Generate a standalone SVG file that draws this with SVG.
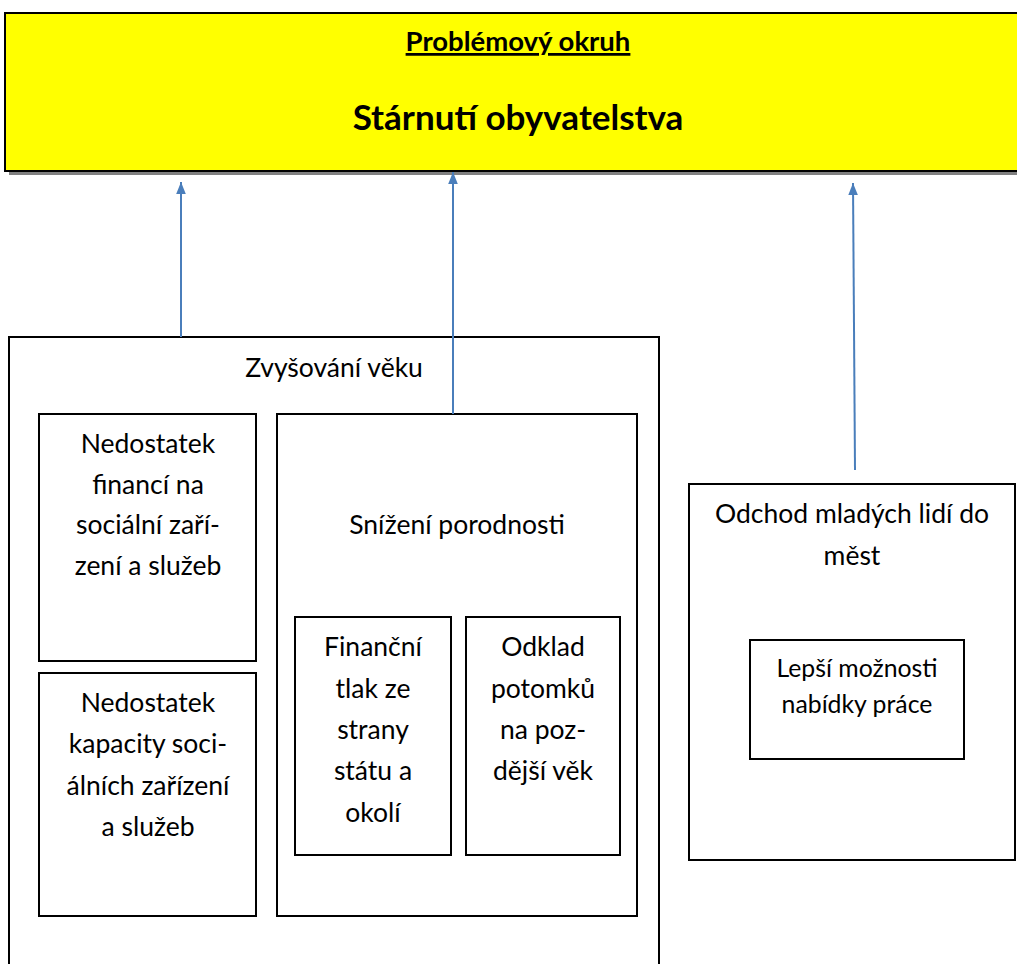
<svg xmlns="http://www.w3.org/2000/svg" width="1017" height="964" viewBox="0 0 1017 964">
<defs>
<style>
.box{fill:#fff;stroke:#000;stroke-width:2}
.t{font-family:Lato,"Liberation Sans",sans-serif;font-size:26.5px;fill:#000;text-anchor:middle}
.s{font-size:24.8px}
.b{font-weight:bold}
.con{stroke:#4a7ebb;stroke-width:2;fill:none}
</style>
<marker id="arr" viewBox="0 0 10 10" refX="10" refY="5" markerWidth="12" markerHeight="12" orient="auto" markerUnits="userSpaceOnUse">
<path d="M0,1 L10,5 L0,9 Z" fill="#4a7ebb"/>
</marker>
</defs>
<rect width="1017" height="964" fill="#fff"/>
<g id="problem">
<rect x="9" y="17" width="1020" height="158" fill="#808080"/>
<rect x="5" y="13" width="1020" height="158" fill="#ffff00" stroke="#000" stroke-width="2"/>
<text class="t b" x="518" y="51" style="font-size:27.5px;text-decoration:underline">Problémový okruh</text>
<text class="t b" x="518" y="130" style="font-size:35px">Stárnutí obyvatelstva</text>
</g>
<g id="zvysovani">
<rect class="box" x="9" y="337" width="650" height="640"/>
<text class="t" x="334" y="377">Zvyšování věku</text>
</g>
<g id="financi">
<rect class="box" x="39" y="414" width="217" height="247"/>
<text class="t" x="148" y="453">Nedostatek</text>
<text class="t" x="148" y="494">financí na</text>
<text class="t" x="148" y="534">sociální zaří-</text>
<text class="t" x="148" y="575">zení a služeb</text>
</g>
<g id="kapacity">
<rect class="box" x="39" y="673" width="217" height="243"/>
<text class="t" x="148" y="712">Nedostatek</text>
<text class="t" x="148" y="753">kapacity soci-</text>
<text class="t" x="148" y="795">álních zařízení</text>
<text class="t" x="148" y="836">a služeb</text>
</g>
<g id="porodnost">
<rect class="box" x="277" y="414" width="360" height="502"/>
<text class="t" x="457" y="534">Snížení porodnosti</text>
</g>
<g id="tlak">
<rect class="box" x="295" y="617" width="156" height="238"/>
<text class="t" x="373" y="656">Finanční</text>
<text class="t" x="373" y="698">tlak ze</text>
<text class="t" x="373" y="739">strany</text>
<text class="t" x="373" y="780">státu a</text>
<text class="t" x="373" y="822">okolí</text>
</g>
<g id="odklad">
<rect class="box" x="466" y="617" width="154" height="238"/>
<text class="t" x="543" y="656">Odklad</text>
<text class="t" x="543" y="698">potomků</text>
<text class="t" x="543" y="739">na poz-</text>
<text class="t" x="543" y="780">dější věk</text>
</g>
<g id="odchod">
<rect class="box" x="689" y="484" width="326" height="376"/>
<text class="t" x="852" y="523">Odchod mladých lidí do</text>
<text class="t" x="852" y="565">měst</text>
</g>
<g id="moznosti">
<rect class="box" x="750" y="640" width="214" height="119"/>
<text class="t s" x="857" y="677">Lepší možnosti</text>
<text class="t s" x="857" y="713">nabídky práce</text>
</g>
<g id="connectors">
<line class="con" x1="181" y1="337" x2="181" y2="182" marker-end="url(#arr)"/>
<line class="con" x1="453" y1="414" x2="453" y2="172" marker-end="url(#arr)"/>
<line class="con" x1="855" y1="470" x2="853" y2="183" marker-end="url(#arr)"/>
</g>
</svg>
